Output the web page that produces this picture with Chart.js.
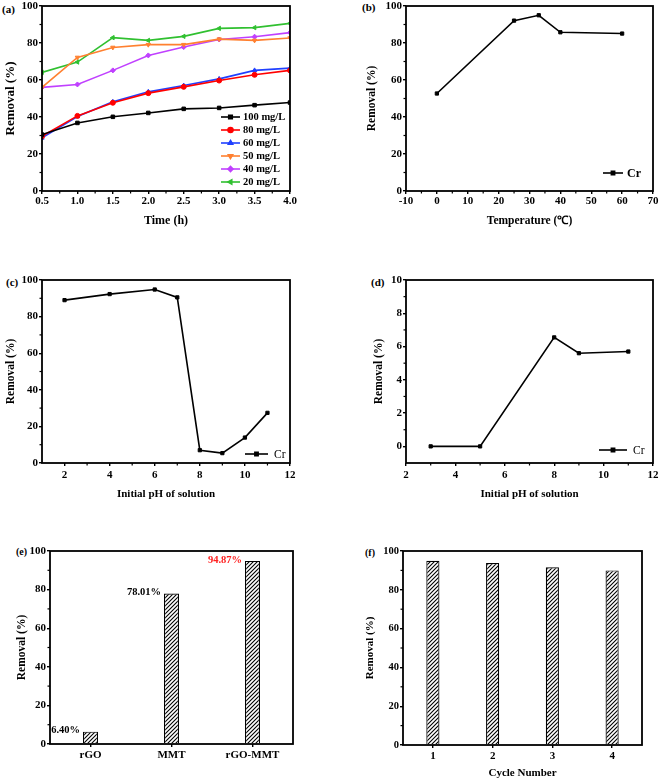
<!DOCTYPE html>
<html>
<head>
<meta charset="utf-8">
<script src="https://cdn.jsdelivr.net/npm/chart.js"></script>
<style>
  body { margin: 0; width: 661px; height: 780px; overflow: hidden; position: relative; background: #fff;
         font-family: "Liberation Serif", "Times New Roman", serif; }
  canvas { position: absolute; }
  .lbl { position: absolute; font-weight: bold; font-size: 11px; line-height: 12px; }
</style>
</head>
<body>
<div class="lbl" style="left:2px;top:3px">(a)</div>
<div class="lbl" style="left:362px;top:1px">(b)</div>
<div class="lbl" style="left:6px;top:276px">(c)</div>
<div class="lbl" style="left:371px;top:276px">(d)</div>
<div class="lbl" style="left:16px;top:546px;font-size:10px">(e)</div>
<div class="lbl" style="left:365px;top:547px;font-size:10px">(f)</div>

<canvas id="ca"></canvas>
<canvas id="cb"></canvas>
<canvas id="cc"></canvas>
<canvas id="cd"></canvas>
<canvas id="ce"></canvas>
<canvas id="cf"></canvas>

<script>
// (a) removal vs time for each starting concentration
const timeH = [0.5, 1.0, 1.5, 2.0, 2.5, 3.0, 3.5, 4.0];
const c100 = [30.5, 36.8, 40.1, 42.2, 44.4, 44.9, 46.4, 47.8];
const c80  = [29.6, 40.6, 47.7, 52.9, 56.3, 59.7, 62.8, 65.2];
const c60  = [28.7, 40.3, 48.2, 53.6, 57.0, 60.6, 65.2, 66.4];
const c50  = [56.0, 72.2, 77.6, 79.1, 79.1, 82.1, 81.4, 82.7];
const c40  = [56.0, 57.6, 65.2, 73.3, 77.8, 81.9, 83.4, 85.6];
const c20  = [64.1, 69.7, 82.9, 81.4, 83.6, 87.9, 88.3, 90.6];
const pctTicks = [0, 20, 40, 60, 80, 100];

// (b) temperature
const tempC = [0, 25, 33, 40, 60];
const tempRemoval = [52.7, 92.1, 95.0, 85.8, 85.1];
const tempTicks = [-10, 0, 10, 20, 30, 40, 50, 60, 70];

// (c) pH, 0-100 scale
const phC = [2, 4, 6, 7, 8, 9, 10, 11];
const phRemovalC = [89.0, 92.3, 94.8, 90.5, 7.0, 5.4, 13.9, 27.4];
const phTicksC = [2, 4, 6, 8, 10, 12];

// (d) pH, 0-10 scale
const phD = [3, 5, 8, 9, 11];
const phRemovalD = [0, 0, 6.55, 5.6, 5.7];
const phTicksD = [2, 4, 6, 8, 10, 12];
const smallTicks = [0, 2, 4, 6, 8, 10];

// (e) materials
const materials = ['rGO', 'MMT', 'rGO-MMT'];
const materialRemoval = [6.40, 78.01, 94.87];

// (f) reuse cycles
const cycles = ['1', '2', '3', '4'];
const cycleRemoval = [95.0, 93.8, 91.6, 90.0];

const FONT = '"Liberation Serif", "Times New Roman", serif';
Chart.defaults.font.family = FONT;
Chart.defaults.font.weight = 'bold';
Chart.defaults.color = '#000';
Chart.defaults.animation = false;

// plot frame plus small minor ticks between the major ones
const framePlugin = {
  id: 'frame',
  afterDraw(chart) {
    const {ctx, chartArea: a} = chart;
    ctx.save();
    ctx.strokeStyle = '#000';
    ctx.lineWidth = 1.2;
    ['x', 'y'].forEach(id => {
      const s = chart.scales[id];
      if (s.type !== 'linear') return;
      const t = s.ticks;
      for (let i = 0; i < t.length - 1; i++) {
        const p = s.getPixelForValue((t[i].value + t[i + 1].value) / 2);
        ctx.beginPath();
        if (id === 'x') { ctx.moveTo(p, a.bottom); ctx.lineTo(p, a.bottom + 2.5); }
        else { ctx.moveTo(a.left, p); ctx.lineTo(a.left - 2.5, p); }
        ctx.stroke();
      }
    });
    ctx.lineWidth = 1.8;
    ctx.strokeRect(a.left, a.top, a.right - a.left, a.bottom - a.top);
    ctx.restore();
  }
};

// legend drawn inside the plot area
const keyPlugin = {
  id: 'key',
  afterDraw(chart, args, o) {
    if (o.x == null) return;
    const {ctx, chartArea: a} = chart;
    ctx.save();
    chart.data.datasets.forEach((ds, i) => {
      const x = a.left + o.x, y = a.top + o.y + i * o.rowH;
      ctx.strokeStyle = ds.borderColor;
      ctx.lineWidth = ds.borderWidth;
      ctx.beginPath(); ctx.moveTo(x, y); ctx.lineTo(x + o.len, y); ctx.stroke();
      ctx.fillStyle = ds.backgroundColor;
      Chart.helpers.drawPoint(ctx, {pointStyle: ds.pointStyle, rotation: ds.pointRotation || 0,
        radius: ds.pointRadius, borderWidth: 1}, x + o.len / 2, y);
      ctx.fillStyle = '#000';
      ctx.font = o.font;
      ctx.textBaseline = 'middle';
      ctx.fillText(ds.label, x + o.len + o.gap, y + 0.5);
    });
    ctx.restore();
  }
};

// value labels left of bar tops
const valPlugin = {
  id: 'vals',
  afterDatasetsDraw(chart, args, o) {
    if (!o.labels) return;
    const ctx = chart.ctx;
    ctx.save();
    ctx.font = o.font;
    ctx.textAlign = 'right';
    ctx.textBaseline = 'middle';
    chart.getDatasetMeta(0).data.forEach((bar, i) => {
      ctx.fillStyle = o.colors[i];
      ctx.fillText(o.labels[i], bar.x - bar.width / 2 - 3, bar.y - 1);
    });
    ctx.restore();
  }
};

Chart.register(framePlugin, keyPlugin, valPlugin);

function hatch() {
  const c = document.createElement('canvas');
  c.width = c.height = 4;
  const g = c.getContext('2d');
  g.fillStyle = '#fff'; g.fillRect(0, 0, 4, 4);
  g.strokeStyle = '#000'; g.lineWidth = 1.1;
  g.beginPath();
  g.moveTo(0, 4); g.lineTo(4, 0);
  g.moveTo(-1, 1); g.lineTo(1, -1);
  g.moveTo(3, 5); g.lineTo(5, 3);
  g.stroke();
  return g.createPattern(c, 'repeat');
}

function axis(o) {
  const ax = {
    type: o.type || 'linear',
    offset: !!o.offset,
    grid: {drawOnChartArea: false, color: '#000', lineWidth: 1.4, tickLength: 3, offset: false},
    border: {display: false},
    ticks: {font: {size: o.tick, weight: 'bold'}, padding: o.pad, color: '#000', maxRotation: 0, autoSkip: false},
    title: {display: !!o.title, text: o.title || '', font: {size: o.tsize || 11, weight: 'bold'}, padding: 0, color: '#000'},
    afterFit: s => { if (o.w) s.width = o.w; if (o.h) s.height = o.h; }
  };
  if (o.min != null) ax.min = o.min;
  if (o.max != null) ax.max = o.max;
  if (o.fmt) ax.ticks.callback = o.fmt;
  if (o.ticks) ax.afterBuildTicks = s => { s.ticks = o.ticks.map(v => ({value: v})); };
  return ax;
}

function place(id, left, top, w, h) {
  const c = document.getElementById(id);
  c.width = w; c.height = h;
  c.style.left = left + 'px'; c.style.top = top + 'px';
  return c;
}

function line(label, xs, ys, color, style, rot, r) {
  return {label, data: xs.map((x, i) => ({x, y: ys[i]})), borderColor: color, backgroundColor: color,
    borderWidth: 1.6, pointStyle: style, pointRotation: rot || 0, pointRadius: r || 2.5,
    pointBorderWidth: 1, tension: 0};
}

const base = (pad, extra) => ({responsive: false, devicePixelRatio: 1, animation: false,
  layout: {padding: pad},
  plugins: Object.assign({legend: {display: false}, tooltip: {enabled: false}}, extra || {})});

// (a)
new Chart(place('ca', 3, -9, 302, 237), {
  type: 'line',
  data: {datasets: [
    line('100 mg/L', timeH, c100, '#000000', 'rect'),
    line('80 mg/L', timeH, c80, '#ff0000', 'circle'),
    line('60 mg/L', timeH, c60, '#2040ff', 'triangle'),
    line('50 mg/L', timeH, c50, '#ff8030', 'triangle', 180),
    line('40 mg/L', timeH, c40, '#c040ff', 'rectRot'),
    line('20 mg/L', timeH, c20, '#30c030', 'triangle', -90)
  ]},
  options: Object.assign(base({left: 0, top: 15, right: 15, bottom: 0},
    {key: {x: 179, y: 111, rowH: 13, len: 19, gap: 3, font: 'bold 10.5px ' + FONT}}), {
    scales: {
      x: axis({min: 0.5, max: 4.0, ticks: timeH, fmt: v => v.toFixed(1), tick: 11, pad: 1, title: 'Time (h)', tsize: 12, h: 37}),
      y: axis({min: 0, max: 100, ticks: pctTicks, tick: 11, pad: 1, title: 'Removal (%)', tsize: 13, w: 39})
    }
  })
});

// (b)
new Chart(place('cb', 365, -9, 298, 237), {
  type: 'line',
  data: {datasets: [line('Cr', tempC, tempRemoval, '#000', 'rect', 0, 2.3)]},
  options: Object.assign(base({left: 0, top: 15, right: 10, bottom: 0},
    {key: {x: 197, y: 167, rowH: 13, len: 20, gap: 4, font: 'bold 12px ' + FONT}}), {
    scales: {
      x: axis({min: -10, max: 70, ticks: tempTicks, tick: 11, pad: 1, title: 'Temperature (\u2103)', tsize: 11.5, h: 37}),
      y: axis({min: 0, max: 100, ticks: pctTicks, tick: 11, pad: 1, title: 'Removal (%)', tsize: 11.5, w: 41})
    }
  })
});

// (c)
new Chart(place('cc', 4, 265, 301, 236), {
  type: 'line',
  data: {datasets: [line('Cr', phC, phRemovalC, '#000', 'rect', 0, 2.3)]},
  options: Object.assign(base({left: 0, top: 15, right: 15, bottom: 0},
    {key: {x: 203, y: 174, rowH: 13, len: 23, gap: 6, font: '11.5px ' + FONT}}), {
    scales: {
      x: axis({min: 1, max: 12, ticks: phTicksC, tick: 11, pad: 3, title: 'Initial pH of solution', tsize: 11, h: 38}),
      y: axis({min: 0, max: 100, ticks: pctTicks, tick: 11, pad: 1, title: 'Removal (%)', tsize: 11.5, w: 38})
    }
  })
});

// (d)
new Chart(place('cd', 372, 265, 291, 236), {
  type: 'line',
  data: {datasets: [line('Cr', phD, phRemovalD, '#000', 'rect', 0, 2.3)]},
  options: Object.assign(base({left: 0, top: 15, right: 10, bottom: 0},
    {key: {x: 193, y: 170, rowH: 13, len: 28, gap: 6, font: '11.5px ' + FONT}}), {
    scales: {
      x: axis({min: 2, max: 12, ticks: phTicksD, tick: 11, pad: 3, title: 'Initial pH of solution', tsize: 11, h: 38}),
      y: axis({min: -1, max: 10, ticks: smallTicks, tick: 11, pad: 1, title: 'Removal (%)', tsize: 11.5, w: 34})
    }
  })
});

// (e)
new Chart(place('ce', 15, 536, 293, 230), {
  type: 'bar',
  data: {labels: materials, datasets: [{data: materialRemoval, backgroundColor: hatch(), borderColor: '#000',
    borderWidth: 1.2, categoryPercentage: 1, barPercentage: 0.185}]},
  options: Object.assign(base({left: 0, top: 15, right: 15, bottom: 0},
    {vals: {labels: materialRemoval.map(v => v.toFixed(2) + '%'), colors: ['#000', '#000', '#ff2020'],
      font: 'bold 10.5px ' + FONT}}), {
    scales: {
      x: axis({type: 'category', offset: true, tick: 11, pad: 2, h: 22}),
      y: axis({min: 0, max: 100, ticks: pctTicks, tick: 11, pad: 1, title: 'Removal (%)', tsize: 11.5, w: 35})
    }
  })
});

// (f)
new Chart(place('cf', 364, 536, 288, 244), {
  type: 'bar',
  data: {labels: cycles, datasets: [{data: cycleRemoval, backgroundColor: hatch(), borderColor: '#000',
    borderWidth: 1.2, categoryPercentage: 1, barPercentage: 0.22}]},
  options: Object.assign(base({left: 0, top: 15, right: 10, bottom: 0}), {
    scales: {
      x: axis({type: 'category', offset: true, tick: 11, pad: 2, title: 'Cycle Number', tsize: 11, h: 35}),
      y: axis({min: 0, max: 100, ticks: pctTicks, tick: 10.5, pad: 1, title: 'Removal (%)', tsize: 11, w: 39})
    }
  })
});
</script>
</body>
</html>
